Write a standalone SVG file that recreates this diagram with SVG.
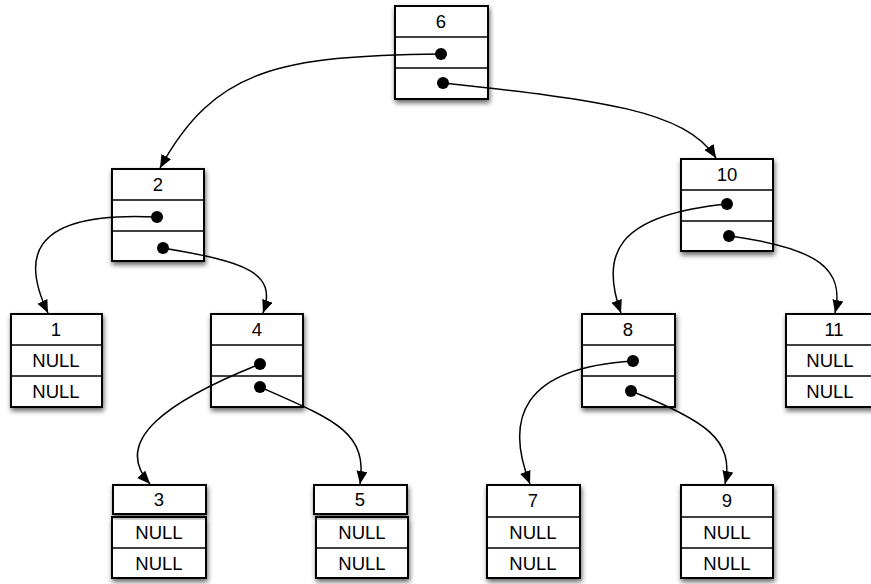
<svg xmlns="http://www.w3.org/2000/svg" width="871" height="584" viewBox="0 0 871 584">
<style>
.box{fill:#fff;stroke:#000;stroke-width:2}
.sep{stroke:#000;stroke-width:1.5}
.t{font-family:"Liberation Sans",Arial,sans-serif;font-size:18.5px;text-anchor:middle;fill:#000}
.dot{fill:#000}
.edge{fill:none;stroke:#000;stroke-width:1.5;marker-end:url(#arr)}
</style>
<defs>
<filter id="sh" x="-20%" y="-20%" width="140%" height="140%">
<feDropShadow dx="1" dy="3" stdDeviation="2.5" flood-color="#000" flood-opacity="0.6"/>
</filter>
<marker id="arr" markerUnits="userSpaceOnUse" markerWidth="15" markerHeight="12" refX="13" refY="5.5" orient="auto">
<path d="M0,0 L13,5.5 L0,11 Z" fill="#000"/>
</marker>
</defs>

<g id="node6">
<rect class="box" x="395" y="6" width="93" height="93" filter="url(#sh)"/>
<line class="sep" x1="395" y1="37" x2="488" y2="37"/>
<line class="sep" x1="395" y1="68" x2="488" y2="68"/>
<text class="t" x="441" y="28">6</text>
</g>
<g id="node2">
<rect class="box" x="112" y="169" width="92" height="92" filter="url(#sh)"/>
<line class="sep" x1="112" y1="200" x2="204" y2="200"/>
<line class="sep" x1="112" y1="231" x2="204" y2="231"/>
<text class="t" x="158" y="191">2</text>
</g>
<g id="node10">
<rect class="box" x="681" y="159" width="92" height="92" filter="url(#sh)"/>
<line class="sep" x1="681" y1="190" x2="773" y2="190"/>
<line class="sep" x1="681" y1="221" x2="773" y2="221"/>
<text class="t" x="727" y="181">10</text>
</g>
<g id="node1">
<rect class="box" x="11" y="314" width="91" height="93" filter="url(#sh)"/>
<line class="sep" x1="11" y1="345" x2="102" y2="345"/>
<line class="sep" x1="11" y1="376" x2="102" y2="376"/>
<text class="t" x="56" y="336">1</text>
<text class="t" x="56" y="367">NULL</text>
<text class="t" x="56" y="398">NULL</text>
</g>
<g id="node4">
<rect class="box" x="211" y="314" width="92" height="93" filter="url(#sh)"/>
<line class="sep" x1="211" y1="345" x2="303" y2="345"/>
<line class="sep" x1="211" y1="376" x2="303" y2="376"/>
<text class="t" x="257" y="336">4</text>
</g>
<g id="node8">
<rect class="box" x="582" y="314" width="93" height="93" filter="url(#sh)"/>
<line class="sep" x1="582" y1="345" x2="675" y2="345"/>
<line class="sep" x1="582" y1="376" x2="675" y2="376"/>
<text class="t" x="628" y="336">8</text>
</g>
<g id="node11">
<rect class="box" x="786" y="314" width="92" height="93" filter="url(#sh)"/>
<line class="sep" x1="786" y1="345" x2="878" y2="345"/>
<line class="sep" x1="786" y1="376" x2="878" y2="376"/>
<text class="t" x="834" y="336">11</text>
<text class="t" x="830" y="367">NULL</text>
<text class="t" x="830" y="398">NULL</text>
</g>
<g id="node3">
<rect class="box" x="112" y="517" width="94" height="61" filter="url(#sh)"/>
<rect class="box" x="113" y="485" width="93" height="29" filter="url(#sh)"/>
<line class="sep" x1="112" y1="548" x2="206" y2="548"/>
<text class="t" x="159" y="506">3</text>
<text class="t" x="159" y="539">NULL</text>
<text class="t" x="159" y="570">NULL</text>
</g>
<g id="node5">
<rect class="box" x="316" y="517" width="92" height="61" filter="url(#sh)"/>
<rect class="box" x="314" y="485" width="93" height="29" filter="url(#sh)"/>
<line class="sep" x1="316" y1="548" x2="408" y2="548"/>
<text class="t" x="360" y="506">5</text>
<text class="t" x="362" y="539">NULL</text>
<text class="t" x="362" y="570">NULL</text>
</g>
<g id="node7">
<rect class="box" x="487" y="485" width="93" height="93" filter="url(#sh)"/>
<line class="sep" x1="487" y1="517" x2="580" y2="517"/>
<line class="sep" x1="487" y1="548" x2="580" y2="548"/>
<text class="t" x="533" y="507">7</text>
<text class="t" x="533" y="539">NULL</text>
<text class="t" x="533" y="570">NULL</text>
</g>
<g id="node9">
<rect class="box" x="681" y="485" width="92" height="93" filter="url(#sh)"/>
<line class="sep" x1="681" y1="517" x2="773" y2="517"/>
<line class="sep" x1="681" y1="548" x2="773" y2="548"/>
<text class="t" x="727" y="507">9</text>
<text class="t" x="727" y="539">NULL</text>
<text class="t" x="727" y="570">NULL</text>
</g>

<g id="connectors">
<path class="edge" d="M441,54 C 280,56 215,68 160,168"/>
<path class="edge" d="M443,83 C 600,100 685,110 716,158"/>
<path class="edge" d="M157,217 C 20,210 25,265 48,313"/>
<path class="edge" d="M163,248 C 245,262 278,272 263,313"/>
<path class="edge" d="M260,364 C 170,400 110,440 150,484"/>
<path class="edge" d="M260,387 C 335,420 368,432 360,484"/>
<path class="edge" d="M727,204 C 615,215 600,255 621,313"/>
<path class="edge" d="M729,236 C 820,248 845,270 835,313"/>
<path class="edge" d="M633,361 C 520,368 505,420 530,484"/>
<path class="edge" d="M631,391 C 705,420 735,440 725,484"/>
<circle class="dot" cx="441" cy="54" r="6"/>
<circle class="dot" cx="443" cy="83" r="6"/>
<circle class="dot" cx="157" cy="217" r="6"/>
<circle class="dot" cx="163" cy="248" r="6"/>
<circle class="dot" cx="727" cy="204" r="6"/>
<circle class="dot" cx="729" cy="236" r="6"/>
<circle class="dot" cx="260" cy="364" r="6"/>
<circle class="dot" cx="260" cy="387" r="6"/>
<circle class="dot" cx="633" cy="361" r="6"/>
<circle class="dot" cx="631" cy="391" r="6"/>
</g>
</svg>
